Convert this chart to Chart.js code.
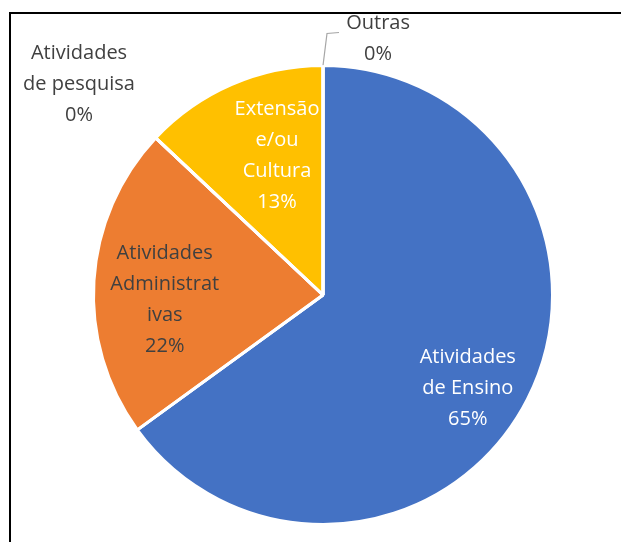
<!DOCTYPE html>
<html>
<head>
  <meta charset="utf-8">
  <title>Distribuição das atividades</title>
  <script src="https://cdn.jsdelivr.net/npm/chart.js"></script>
  <style>
    body { margin: 0; background: #fff; }
    #frame {
      position: absolute; left: 9px; top: 12px; width: 700px; height: 600px;
      border-left: 2px solid #000; border-top: 2px solid #000;
    }
    #pie { position: absolute; left: 0; top: 0; }
  </style>
  <script>
    const categories = ['Atividades de Ensino', 'Atividades Administrativas', 'Atividades de pesquisa', 'Extensão e/ou Cultura', 'Outras'];
    const percentages = [65, 22, 0, 13, 0];
    const labelLines = [
      ['Atividades', 'de Ensino'],
      ['Atividades', 'Administrat', 'ivas'],
      ['Atividades', 'de pesquisa'],
      ['Extensão', 'e/ou', 'Cultura'],
      ['Outras']
    ];
    const sliceColors = ['#4472C4', '#ED7D31', '#A5A5A5', '#FFC000', '#5B9BD5'];

    // where each label sits, relative to the pie centre (in radii)
    const labelPlace = [
      { r: 0.75, dAng: 0.1 },
      { r: 0.69, dAng: -0.094 },
      { dx: -1.063, dy: -0.92 },
      { r: 0.64, dAng: 0.09 },
      { dx: 0.24, dy: -1.115, leader: true }
    ];
    const labelColors = ['#ffffff', '#404040', '#404040', '#ffffff', '#404040'];

    const pieLabels = {
      id: 'pieLabels',
      afterDraw(chart) {
        const ctx = chart.ctx;
        const meta = chart.getDatasetMeta(0);
        ctx.save();
        ctx.font = '20px "Open Sans", sans-serif';
        ctx.textAlign = 'center';
        ctx.textBaseline = 'middle';
        meta.data.forEach((arc, i) => {
          const p = arc.getProps(['x', 'y', 'startAngle', 'endAngle', 'outerRadius'], true);
          const place = labelPlace[i];
          let px, py;
          if (place.dx !== undefined) {
            px = p.x + place.dx * p.outerRadius;
            py = p.y + place.dy * p.outerRadius;
          } else {
            const mid = (p.startAngle + p.endAngle) / 2 + place.dAng;
            px = p.x + Math.cos(mid) * p.outerRadius * place.r;
            py = p.y + Math.sin(mid) * p.outerRadius * place.r;
          }
          if (place.leader) {
            const ex = p.x + Math.cos(p.startAngle) * p.outerRadius;
            const ey = p.y + Math.sin(p.startAngle) * p.outerRadius;
            ctx.strokeStyle = '#a6a6a6';
            ctx.lineWidth = 1.2;
            ctx.beginPath();
            ctx.moveTo(ex, ey);
            ctx.lineTo(ex + 4, ey - 32);
            ctx.lineTo(ex + 16, ey - 33);
            ctx.stroke();
          }
          const lines = labelLines[i].concat([percentages[i] + '%']);
          const lh = 31;
          ctx.fillStyle = labelColors[i];
          lines.forEach((t, k) => {
            ctx.fillText(t, px, py + (k - (lines.length - 1) / 2) * lh);
          });
        });
        // slice borders go back over any label that spills past its slice
        ctx.strokeStyle = '#ffffff';
        ctx.lineWidth = 3;
        meta.data.forEach((arc) => {
          const p = arc.getProps(['x', 'y', 'startAngle', 'outerRadius'], true);
          ctx.beginPath();
          ctx.moveTo(p.x, p.y);
          ctx.lineTo(p.x + Math.cos(p.startAngle) * p.outerRadius, p.y + Math.sin(p.startAngle) * p.outerRadius);
          ctx.stroke();
        });
        ctx.restore();
      }
    };

    window.onload = function() {
      const ctx = document.getElementById('pie').getContext('2d');
      new Chart(ctx, {
        type: 'pie',
        data: {
          labels: categories,
          datasets: [{
            data: percentages,
            backgroundColor: sliceColors,
            borderColor: '#ffffff',
            borderWidth: 3
          }]
        },
        options: {
          responsive: false,
          animation: false,
          layout: { padding: { left: 92, right: 67, top: 64, bottom: 16 } },
          plugins: {
            legend: { display: false },
            tooltip: { enabled: false }
          }
        },
        plugins: [pieLabels]
      });
    };
  </script>
</head>
<body>
<div id="frame"></div>
<canvas id="pie" width="621" height="542"></canvas>
</body>
</html>
